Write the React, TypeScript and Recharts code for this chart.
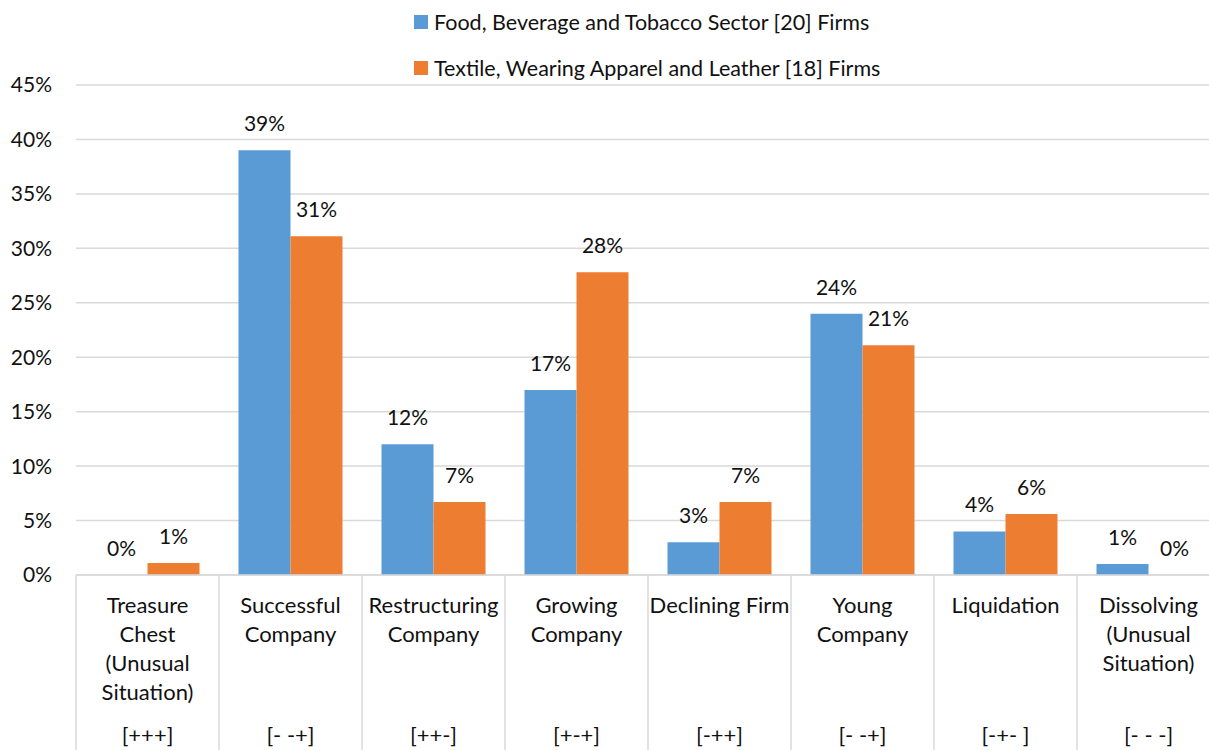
import { BarChart, Bar, XAxis, YAxis, CartesianGrid, Legend, LabelList } from "recharts";

const categories = [
  "Treasure Chest (Unusual Situation)",
  "Successful Company",
  "Restructuring Company",
  "Growing Company",
  "Declining Firm",
  "Young Company",
  "Liquidation",
  "Dissolving (Unusual Situation)"
];
const categoryLines = [
  ["Treasure", "Chest", "(Unusual", "Situation)"],
  ["Successful", "Company"],
  ["Restructuring", "Company"],
  ["Growing", "Company"],
  ["Declining Firm"],
  ["Young", "Company"],
  ["Liquidation"],
  ["Dissolving", "(Unusual", "Situation)"]
];
const codes = ["[+++]", "[- -+]", "[++-]", "[+-+]", "[-++]", "[- -+]", "[-+- ]", "[- - -]"];

const food = [0, 39, 12, 17, 3, 24, 4, 1];
const textile = [1.1, 31.1, 6.7, 27.8, 6.7, 21.1, 5.6, 0];

const seriesNames = [
  "Food, Beverage and Tobacco Sector [20] Firms",
  "Textile, Wearing Apparel and Leather [18] Firms"
];
const yTicks = [0, 5, 10, 15, 20, 25, 30, 35, 40, 45];

const data = categories.map((name, i) => ({ name, food: food[i], textile: textile[i] }));

const FONT = "Lato, 'Open Sans', sans-serif";
const TEXT = "#111";
const GRID = "#d9d9d9";

function CategoryTick(props: any) {
  const { x, y, index } = props;
  const lines = categoryLines[index] || [];
  return (
    <g>
      <line x1={x - 71.5} x2={x - 71.5} y1={y} y2={y + 200} stroke={GRID} strokeWidth={1.5} />
      {index === categories.length - 1 && (
        <line x1={x + 71.5} x2={x + 71.5} y1={y} y2={y + 200} stroke={GRID} strokeWidth={1.5} />
      )}
      {lines.map((l, i) => (
        <text key={i} x={x} y={y + 38 + 29 * i} textAnchor="middle" fill={TEXT} fontSize={22} fontFamily={FONT}>
          {l}
        </text>
      ))}
      <text x={x} y={y + 168} textAnchor="middle" fill={TEXT} fontSize={22} fontFamily={FONT}>
        {codes[index]}
      </text>
    </g>
  );
}

function TopLegend(props: any) {
  const items = props.payload || [];
  return (
    <div style={{ position: "relative", height: 85, fontFamily: FONT, fontSize: 21.5, color: TEXT }}>
      {items.map((it: any, i: number) => (
        <div
          key={i}
          style={{ position: "absolute", left: 414, top: 22 + 46 * i - 13, height: 26, display: "flex", alignItems: "center", whiteSpace: "nowrap" }}
        >
          <span style={{ display: "inline-block", width: 14, height: 14, background: it.color, marginRight: 6 }} />
          <span>{it.value}</span>
        </div>
      ))}
    </div>
  );
}

const fmt = (v: any) => `${Math.round(Number(v))}%`;

export default function App() {
  return (
    <div style={{ position: "absolute", left: 0, top: 0, width: 1209, height: 750, overflow: "hidden", background: "#fff" }}>
      <BarChart
        width={1240}
        height={750}
        data={data}
        margin={{ top: 0, right: 20, bottom: 0, left: 0 }}
        barCategoryGap={19.5}
        barGap={0}
        style={{ fontFamily: FONT }}
      >
        <Legend verticalAlign="top" content={<TopLegend />} wrapperStyle={{ left: 0, top: 0, width: 1240 }} />
        <CartesianGrid vertical={false} stroke={GRID} strokeWidth={1.5} />
        <XAxis
          dataKey="name"
          interval={0}
          height={175}
          tickSize={0}
          tickMargin={0}
          tickLine={false}
          axisLine={{ stroke: GRID, strokeWidth: 1.5 }}
          tick={<CategoryTick />}
        />
        <YAxis
          width={76}
          domain={[0, 45]}
          ticks={yTicks}
          interval={0}
          axisLine={false}
          tickLine={false}
          tickMargin={18}
          tickFormatter={(v: number) => `${v}%`}
          tick={{ fill: TEXT, fontSize: 21, fontFamily: FONT }}
        />
        <Bar dataKey="food" name={seriesNames[0]} fill="#5B9BD5" minPointSize={0.01} isAnimationActive={false}>
          <LabelList dataKey="food" position="top" offset={19} formatter={fmt} fill={TEXT} fontSize={21} fontFamily={FONT} />
        </Bar>
        <Bar dataKey="textile" name={seriesNames[1]} fill="#ED7D31" minPointSize={0.01} isAnimationActive={false}>
          <LabelList dataKey="textile" position="top" offset={19} formatter={fmt} fill={TEXT} fontSize={21} fontFamily={FONT} />
        </Bar>
      </BarChart>
    </div>
  );
}
